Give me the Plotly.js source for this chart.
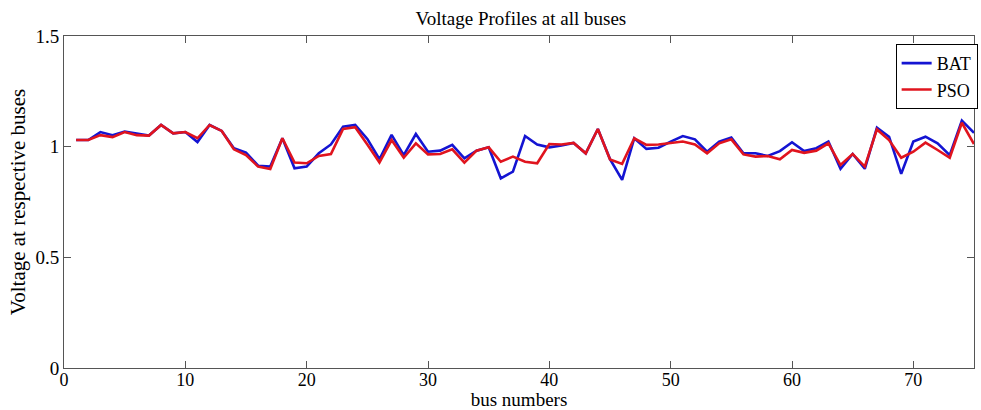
<!DOCTYPE html>
<html>
<head>
<meta charset="utf-8">
<script src="https://cdn.plot.ly/plotly-3.0.1.min.js"></script>
<style>html,body{margin:0;padding:0;background:#fff;}#chart{width:981px;height:410px;}</style>
</head>
<body>
<div id="chart"></div>
<script>
const buses = [1,2,3,4,5,6,7,8,9,10,11,12,13,14,15,16,17,18,19,20,21,22,23,24,25,26,27,28,29,30,31,32,33,34,35,36,37,38,39,40,41,42,43,44,45,46,47,48,49,50,51,52,53,54,55,56,57,58,59,60,61,62,63,64,65,66,67,68,69,70,71,72,73,74,75];
const batVoltage = [1.03,1.03,1.066,1.052,1.068,1.06,1.05,1.098,1.06,1.066,1.021,1.098,1.071,0.993,0.973,0.914,0.91,1.038,0.902,0.91,0.97,1.01,1.09,1.098,1.035,0.943,1.053,0.962,1.057,0.977,0.982,1.008,0.947,0.982,0.997,0.857,0.887,1.048,1.01,0.997,1.005,1.017,0.97,1.08,0.944,0.85,1.038,0.99,0.995,1.023,1.048,1.033,0.977,1.023,1.041,0.97,0.97,0.958,0.98,1.02,0.98,0.993,1.023,0.9,0.967,0.9,1.086,1.045,0.877,1.023,1.045,1.015,0.962,1.118,1.063];
const psoVoltage = [1.03,1.03,1.052,1.043,1.066,1.052,1.05,1.098,1.06,1.066,1.038,1.098,1.071,0.988,0.962,0.91,0.899,1.038,0.928,0.925,0.958,0.967,1.08,1.088,1.01,0.929,1.03,0.95,1.015,0.965,0.967,0.988,0.928,0.982,0.997,0.932,0.955,0.932,0.925,1.012,1.01,1.017,0.97,1.08,0.942,0.922,1.038,1.008,1.01,1.015,1.023,1.01,0.97,1.015,1.033,0.965,0.955,0.958,0.943,0.985,0.972,0.982,1.015,0.917,0.967,0.91,1.078,1.03,0.95,0.977,1.018,0.985,0.95,1.108,1.012];
const xTicks = [0,10,20,30,40,50,60,70];
const yTicks = [0,0.5,1,1.5];
const yTickText = ['0','0.5','1','1.5'];

const font = {family: '"Liberation Serif", "Times New Roman", serif', color: '#000'};

const data = [
  {x: buses, y: batVoltage, name: 'BAT', type: 'scatter', mode: 'lines',
   line: {color: '#1414d2', width: 2.6}},
  {x: buses, y: psoVoltage, name: 'PSO', type: 'scatter', mode: 'lines',
   line: {color: '#e0141e', width: 2.6}}
];

const axisCommon = {
  showgrid: false, zeroline: false, showline: true, linecolor: '#555', linewidth: 1,
  mirror: 'ticks', ticks: 'inside', ticklen: 7, tickcolor: '#555', tickwidth: 1,
  tickfont: Object.assign({size: 19}, font)
};

const layout = {
  width: 981, height: 410,
  margin: {l: 64, r: 3, t: 36, b: 42},
  paper_bgcolor: '#fff', plot_bgcolor: '#fff',
  font: font,
  title: {text: 'Voltage Profiles at all buses', font: Object.assign({size: 19}, font),
          x: 0.531, xanchor: 'center', y: 0.955, yanchor: 'middle'},
  xaxis: Object.assign({}, axisCommon, {
    range: [0, 75], tickmode: 'array', tickvals: xTicks, ticktext: xTicks.map(String),
    tickfont: Object.assign({size: 18}, font), ticklabelstandoff: -5,
    title: {text: 'bus numbers', font: Object.assign({size: 19}, font), standoff: 8}
  }),
  yaxis: Object.assign({}, axisCommon, {
    range: [0, 1.5], tickmode: 'array', tickvals: yTicks, ticktext: yTickText,
    title: {text: 'Voltage at respective buses', font: Object.assign({size: 21}, font), standoff: 4}
  }),
  showlegend: true,
  legend: {x: 1.004, xanchor: 'right', y: 0.976, yanchor: 'top',
           bgcolor: '#fff', bordercolor: '#000', borderwidth: 1,
           font: Object.assign({size: 18}, font), tracegroupgap: 0, itemwidth: 30}
};

Plotly.newPlot('chart', data, layout, {displayModeBar: false, staticPlot: true});
</script>
</body>
</html>
